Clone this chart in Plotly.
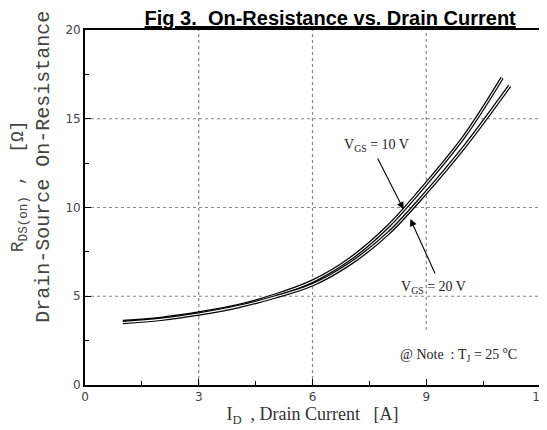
import plotly.graph_objects as go

# Drain current [A] and on-resistance [Ohm]
id_10v = [1.0, 2.0, 3.0, 4.0, 5.0, 6.0, 7.0, 8.0, 9.0, 10.0, 11.0]
rds_10v = [3.58, 3.75, 4.05, 4.45, 5.05, 5.85, 7.12, 8.95, 11.35, 14.0, 17.3]

id_20v = [1.0, 2.0, 3.0, 4.0, 5.0, 6.0, 7.0, 8.0, 9.0, 10.0, 11.2]
rds_20v = [3.52, 3.7, 4.0, 4.4, 4.95, 5.65, 6.85, 8.55, 10.85, 13.4, 16.85]

x_ticks = [0, 3, 6, 9, 12]
y_ticks = [0, 5, 10, 15, 20]

fig = go.Figure()

# each curve is drawn as a hollow double line: wide black, thin white on top
for xs, ys in [(id_10v, rds_10v), (id_20v, rds_20v)]:
    fig.add_trace(go.Scatter(x=xs, y=ys, mode="lines",
                             line=dict(color="black", width=3.6, shape="spline"),
                             hoverinfo="skip", showlegend=False))
    fig.add_trace(go.Scatter(x=xs, y=ys, mode="lines",
                             line=dict(color="white", width=1.1, shape="spline"),
                             hoverinfo="skip", showlegend=False))

# dotted grid
grid = dict(color="#888888", width=1.2, dash="dot")
for gx in [3, 6]:
    fig.add_shape(type="line", x0=gx, x1=gx, y0=0, y1=20, line=grid, layer="below")
fig.add_shape(type="line", x0=9, x1=9, y0=3.1, y1=20, line=grid, layer="below")
for gy in [5, 10, 15]:
    fig.add_shape(type="line", x0=0, x1=12, y0=gy, y1=gy, line=grid, layer="below")

note_font = dict(family="Liberation Serif", size=14, color="#222222")

fig.add_annotation(x=8.40, y=9.9, ax=7.7, ay=12.85, axref="x", ayref="y",
                   showarrow=True, arrowhead=2, arrowsize=1.3, arrowwidth=1.1,
                   arrowcolor="black", text="")
fig.add_annotation(x=7.7, y=13.5, text="V<sub>GS</sub> = 10 V", showarrow=False,
                   font=note_font)
fig.add_annotation(x=8.58, y=9.35, ax=9.25, ay=6.2, axref="x", ayref="y",
                   showarrow=True, arrowhead=2, arrowsize=1.3, arrowwidth=1.1,
                   arrowcolor="black", text="")
fig.add_annotation(x=9.2, y=5.5, text="V<sub>GS</sub> = 20 V", showarrow=False,
                   font=note_font)
fig.add_annotation(x=9.85, y=1.75,
                   text="@&nbsp;Note&nbsp;&nbsp;:&nbsp;T<sub>J</sub>&nbsp;=&nbsp;25&nbsp;<sup>o</sup>C",
                   showarrow=False, font=note_font)

# y axis title, two lines in monospace
fig.add_annotation(xref="paper", yref="paper", x=-0.145, y=0.56, xanchor="center",
                   text="R<sub>DS(on)</sub> ,  [Ω]", textangle=-90, showarrow=False,
                   font=dict(family="Liberation Mono", size=18, color="#444444"))
fig.add_annotation(xref="paper", yref="paper", x=-0.09, y=0.615, xanchor="center",
                   text="Drain-Source On-Resistance", textangle=-90, showarrow=False,
                   font=dict(family="Liberation Mono", size=20, color="#444444"))

fig.update_layout(
    width=547, height=430,
    margin=dict(l=77, r=7, t=22, b=53),
    plot_bgcolor="white", paper_bgcolor="white",
    title=dict(text="<b><u>Fig 3.  On-Resistance vs. Drain Current</u></b>",
               x=0.589, xanchor="center", y=0.993, yanchor="top",
               font=dict(family="Liberation Sans", size=20, color="black")),
    xaxis=dict(range=[0, 12], tickvals=x_ticks, showgrid=False, zeroline=False,
               showline=True, linecolor="black", linewidth=1.8, mirror=True,
               ticks="inside", ticklen=6, tickcolor="black",
               minor=dict(tickvals=[1.5, 4.5, 7.5, 10.5], ticks="inside",
                          ticklen=4, tickcolor="black"),
               tickfont=dict(family="DejaVu Sans", size=12, color="#444444"),
               title=dict(text="I<sub>D</sub>&nbsp;&nbsp;,&nbsp;Drain Current&nbsp;&nbsp;&nbsp;[A]",
                          standoff=2,
                          font=dict(family="Liberation Serif", size=18, color="#333333"))),
    yaxis=dict(range=[0, 20], tickvals=y_ticks, showgrid=False, zeroline=False,
               showline=True, linecolor="black", linewidth=1.8, mirror=True,
               ticks="inside", ticklen=6, tickcolor="black",
               minor=dict(tickvals=[2.5, 7.5, 12.5, 17.5], ticks="inside",
                          ticklen=4, tickcolor="black"),
               tickfont=dict(family="DejaVu Sans", size=12, color="#444444")),
)

fig.write_html("out.html")
